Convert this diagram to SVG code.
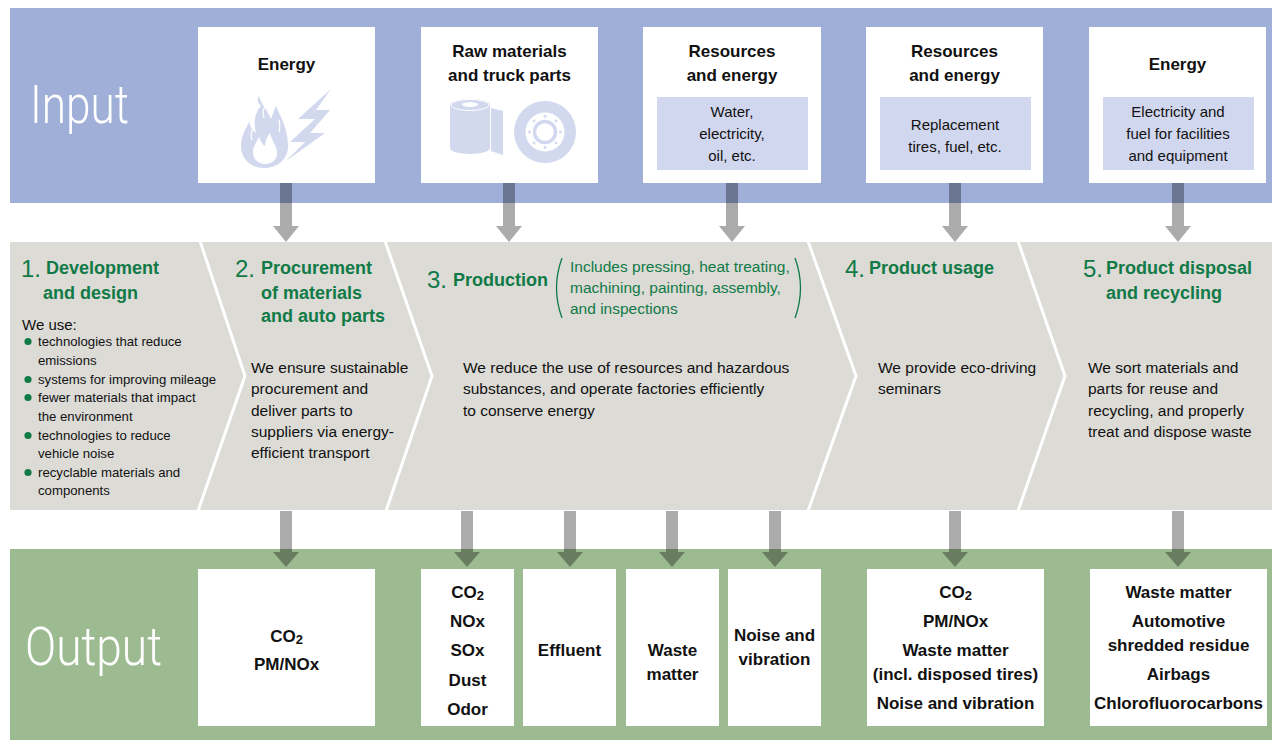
<svg xmlns="http://www.w3.org/2000/svg" width="1272" height="740" viewBox="0 0 1272 740">
<defs>
<style>
text{font-family:"Liberation Sans",Arial,sans-serif;}
.big{font-family:Roboto,Lato,"Open Sans","Liberation Sans",sans-serif;font-weight:300;fill:#fff;font-size:54px;}
.box{fill:#fff;}
.inner{fill:#d1d7ee;}
.icon{fill:#d2d8ee;}
.hd{font-weight:bold;font-size:17px;fill:#111;text-anchor:middle;}
.in{font-size:15px;fill:#111;text-anchor:middle;}
.stage{fill:#dcdbd6;}
.num{font-size:24px;fill:#117a47;}
.sh{font-weight:bold;font-size:18px;fill:#117a47;}
.body{font-size:15.5px;fill:#111;}
.bl{font-size:13.2px;fill:#111;}
.par{font-size:15.5px;fill:#117a47;}
.dot{fill:#117a47;}
.out{font-weight:bold;font-size:17px;fill:#111;text-anchor:middle;}
.arrow{fill:#000;fill-opacity:.33;}
.div{fill:none;stroke:#fff;stroke-width:3;}
</style>
</defs>
<rect width="1272" height="740" fill="#fff"/>
<!-- bands -->
<rect x="10" y="8" width="1262" height="195" fill="#9fafd8"/>
<rect x="10" y="549" width="1262" height="191" fill="#9cbb90"/>
<text class="big" x="30" y="123" textLength="99" lengthAdjust="spacingAndGlyphs">Input</text>
<text class="big" x="25" y="665" textLength="137" lengthAdjust="spacingAndGlyphs">Output</text>

<!-- input nodes -->
<g id="in-energy1">
<rect class="box" x="198" y="27" width="177" height="156"/>
<text class="hd" x="286.5" y="70">Energy</text>
<path class="icon" d="M264,168 C250,168 241,158 241,146 C241,135 246,129 249,122 C251,128 253,131 256,133 C253,123 255,112 261,106 C257,103 257,99 259,96 C261,104 268,111 271,119 C273,114 274,110 276,106 C280,116 288,128 288,146 C288,159 278,168 264,168 Z"/>
<path fill="#fff" d="M265,164 C258,164 253,159 253,152 C253,146 257,142 259,137 C261,142 263,145 265,146 C265,141 267,137 270,133 C272,141 277,146 277,153 C277,160 272,164 265,164 Z"/>
<path fill="none" stroke="#fff" stroke-width="1.2" d="M252,140 C250,134 252,129 255,126 M264,118 C262,112 264,106 267,103 M279,132 C280,128 280,124 279,120"/>
<polygon class="icon" points="331,89 298,119 315,119 290,142 305,142 286,161 325,133 310,133 330,110 316,110"/>
</g>
<g id="in-raw">
<rect class="box" x="421" y="27" width="177" height="156"/>
<text class="hd" x="509.5" y="57">Raw materials</text>
<text class="hd" x="509.5" y="81">and truck parts</text>
<path class="icon" d="M450,105 A20,6 0 0 1 490,105 V148 A20,6 0 0 1 450,148 Z"/>
<ellipse cx="470" cy="105" rx="19" ry="5.5" fill="none" stroke="#fff" stroke-width="1"/>
<ellipse cx="470" cy="104.5" rx="8" ry="2.5" fill="#fff"/>
<polygon class="icon" points="491,108 503,111 503,155 491,151"/>
<circle class="icon" cx="545" cy="132" r="31"/>
<circle fill="#fff" cx="545" cy="132" r="19.5"/>
<circle fill="none" stroke="#d2d8ee" stroke-width="3.5" cx="545" cy="132" r="10.5"/>
<g class="icon">
<circle cx="560.5" cy="132" r="1.4"/><circle cx="529.5" cy="132" r="1.4"/>
<circle cx="545" cy="116.5" r="1.4"/><circle cx="545" cy="147.5" r="1.4"/>
<circle cx="556" cy="121" r="1.4"/><circle cx="534" cy="121" r="1.4"/>
<circle cx="556" cy="143" r="1.4"/><circle cx="534" cy="143" r="1.4"/>
</g>
</g>
<g id="in-resources1">
<rect class="box" x="643" y="27" width="178" height="156"/>
<text class="hd" x="732" y="57">Resources</text>
<text class="hd" x="732" y="81">and energy</text>
<rect class="inner" x="657" y="97" width="151" height="73"/>
<text class="in" x="732" y="117">Water,</text>
<text class="in" x="732" y="139">electricity,</text>
<text class="in" x="732" y="161">oil, etc.</text>
</g>
<g id="in-resources2">
<rect class="box" x="866" y="27" width="177" height="156"/>
<text class="hd" x="954.5" y="57">Resources</text>
<text class="hd" x="954.5" y="81">and energy</text>
<rect class="inner" x="880" y="97" width="151" height="73"/>
<text class="in" x="955" y="130">Replacement</text>
<text class="in" x="955" y="152">tires, fuel, etc.</text>
</g>
<g id="in-energy2">
<rect class="box" x="1089" y="27" width="177" height="156"/>
<text class="hd" x="1177.5" y="70">Energy</text>
<rect class="inner" x="1103" y="97" width="151" height="73"/>
<text class="in" x="1178" y="117">Electricity and</text>
<text class="in" x="1178" y="139">fuel for facilities</text>
<text class="in" x="1178" y="161">and equipment</text>
</g>

<!-- stages -->
<g id="stage1">
<polygon class="stage" points="10,242 200,242 245,376 198,510 10,510"/>
<text class="num" x="21" y="277">1.</text>
<text class="sh" x="46" y="274">Development</text>
<text class="sh" x="43" y="299">and design</text>
<text class="body" x="22" y="330" style="font-size:15px">We use:</text>
<circle class="dot" cx="28" cy="341.5" r="3.6"/>
<circle class="dot" cx="28" cy="379.5" r="3.6"/>
<circle class="dot" cx="28" cy="397.5" r="3.6"/>
<circle class="dot" cx="28" cy="435.5" r="3.6"/>
<circle class="dot" cx="28" cy="472.5" r="3.6"/>
<text class="bl" x="38" y="346">technologies that reduce</text>
<text class="bl" x="38" y="365">emissions</text>
<text class="bl" x="38" y="384">systems for improving mileage</text>
<text class="bl" x="38" y="402">fewer materials that impact</text>
<text class="bl" x="38" y="421">the environment</text>
<text class="bl" x="38" y="440">technologies to reduce</text>
<text class="bl" x="38" y="458">vehicle noise</text>
<text class="bl" x="38" y="477">recyclable materials and</text>
<text class="bl" x="38" y="495">components</text>
</g>
<g id="stage2">
<polygon class="stage" points="200,242 385,242 432,376 386,510 198,510 245,376"/>
<text class="num" x="235" y="277">2.</text>
<text class="sh" x="261" y="274">Procurement</text>
<text class="sh" x="261" y="299">of materials</text>
<text class="sh" x="261" y="322">and auto parts</text>
<text class="body" x="251" y="373">We ensure sustainable</text>
<text class="body" x="251" y="394">procurement and</text>
<text class="body" x="251" y="416">deliver parts to</text>
<text class="body" x="251" y="437">suppliers via energy-</text>
<text class="body" x="251" y="458">efficient transport</text>
</g>
<g id="stage3">
<polygon class="stage" points="385,242 808,242 856,376 808,510 386,510 432,376"/>
<text class="num" x="427" y="288">3.</text>
<text class="sh" x="453" y="286">Production</text>
<path d="M562,258 Q551,288 562,318" fill="none" stroke="#117a47" stroke-width="1.3"/>
<path d="M795,258 Q806,288 795,318" fill="none" stroke="#117a47" stroke-width="1.3"/>
<text class="par" x="570" y="272">Includes pressing, heat treating,</text>
<text class="par" x="570" y="293">machining, painting, assembly,</text>
<text class="par" x="570" y="314">and inspections</text>
<text class="body" x="463" y="373">We reduce the use of resources and hazardous</text>
<text class="body" x="463" y="394">substances, and operate factories efficiently</text>
<text class="body" x="463" y="416">to conserve energy</text>
</g>
<g id="stage4">
<polygon class="stage" points="808,242 1018,242 1065,376 1018,510 808,510 856,376"/>
<text class="num" x="845" y="277">4.</text>
<text class="sh" x="869" y="274">Product usage</text>
<text class="body" x="878" y="373">We provide eco-driving</text>
<text class="body" x="878" y="394">seminars</text>
</g>
<g id="stage5">
<polygon class="stage" points="1018,242 1272,242 1272,510 1018,510 1065,376"/>
<text class="num" x="1083" y="277">5.</text>
<text class="sh" x="1106" y="274">Product disposal</text>
<text class="sh" x="1106" y="299">and recycling</text>
<text class="body" x="1088" y="373">We sort materials and</text>
<text class="body" x="1088" y="394">parts for reuse and</text>
<text class="body" x="1088" y="416">recycling, and properly</text>
<text class="body" x="1088" y="437">treat and dispose waste</text>
</g>
<g id="dividers">
<polyline class="div" points="200,241 245,376 198,511"/>
<polyline class="div" points="385,241 432,376 386,511"/>
<polyline class="div" points="808,241 856,376 808,511"/>
<polyline class="div" points="1018,241 1065,376 1018,511"/>
</g>

<!-- output nodes -->
<g id="out-dev">
<rect class="box" x="198" y="569" width="177" height="157"/>
<text class="out" x="286.5" y="642">CO<tspan font-size="13" dy="2">2</tspan></text>
<text class="out" x="286.5" y="670">PM/NOx</text>
</g>
<g id="out-air">
<rect class="box" x="421" y="569" width="93" height="157"/>
<text class="out" x="467.5" y="598">CO<tspan font-size="13" dy="2">2</tspan></text>
<text class="out" x="467.5" y="627">NOx</text>
<text class="out" x="467.5" y="656">SOx</text>
<text class="out" x="467.5" y="686">Dust</text>
<text class="out" x="467.5" y="715">Odor</text>
</g>
<g id="out-effluent">
<rect class="box" x="523" y="569" width="93" height="157"/>
<text class="out" x="569.5" y="656">Effluent</text>
</g>
<g id="out-waste">
<rect class="box" x="626" y="569" width="93" height="157"/>
<text class="out" x="672.5" y="656">Waste</text>
<text class="out" x="672.5" y="680">matter</text>
</g>
<g id="out-noise">
<rect class="box" x="728" y="569" width="93" height="157"/>
<text class="out" x="774.5" y="641">Noise and</text>
<text class="out" x="774.5" y="665">vibration</text>
</g>
<g id="out-usage">
<rect class="box" x="867" y="569" width="177" height="157"/>
<text class="out" x="955.5" y="598">CO<tspan font-size="13" dy="2">2</tspan></text>
<text class="out" x="955.5" y="627">PM/NOx</text>
<text class="out" x="955.5" y="656">Waste matter</text>
<text class="out" x="955.5" y="680">(incl. disposed tires)</text>
<text class="out" x="955.5" y="709">Noise and vibration</text>
</g>
<g id="out-disposal">
<rect class="box" x="1090" y="569" width="177" height="157"/>
<text class="out" x="1178.5" y="598">Waste matter</text>
<text class="out" x="1178.5" y="627">Automotive</text>
<text class="out" x="1178.5" y="651">shredded residue</text>
<text class="out" x="1178.5" y="680">Airbags</text>
<text class="out" x="1178.5" y="709">Chlorofluorocarbons</text>
</g>

<!-- connectors -->
<g id="connectors" class="arrow">
<path d="M280,183H292V226H299L286,242L273,226H280Z"/>
<path d="M503,183H515V226H522L509,242L496,226H503Z"/>
<path d="M726,183H738V226H745L732,242L719,226H726Z"/>
<path d="M949,183H961V226H968L955,242L942,226H949Z"/>
<path d="M1172,183H1184V226H1191L1178,242L1165,226H1172Z"/>
<path d="M280,511H292V552H299L286,567L273,552H280Z"/>
<path d="M461,511H473V552H480L467,567L454,552H461Z"/>
<path d="M564,511H576V552H583L570,567L557,552H564Z"/>
<path d="M666,511H678V552H685L672,567L659,552H666Z"/>
<path d="M769,511H781V552H788L775,567L762,552H769Z"/>
<path d="M949,511H961V552H968L955,567L942,552H949Z"/>
<path d="M1172,511H1184V552H1191L1178,567L1165,552H1172Z"/>
</g>
</svg>
